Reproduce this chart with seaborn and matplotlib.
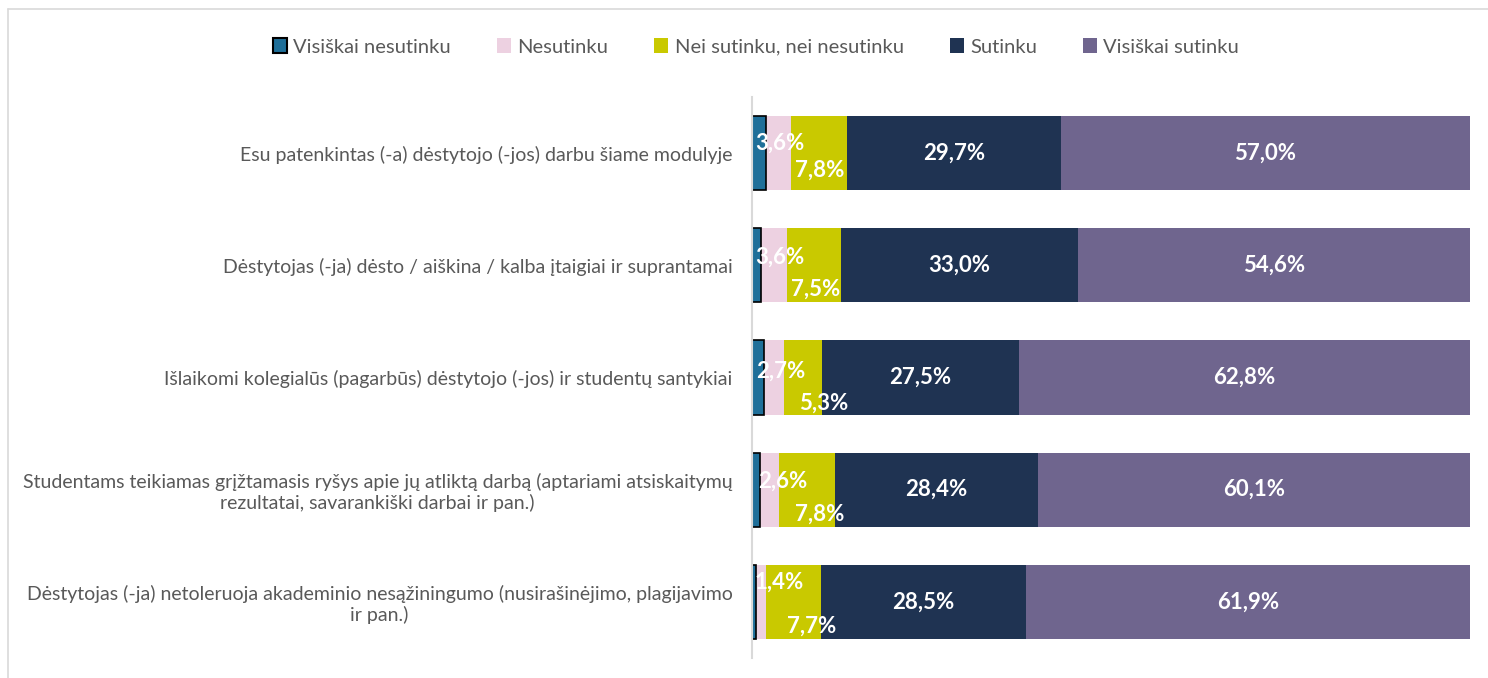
import seaborn as sns
import matplotlib
matplotlib.use('Agg')
import matplotlib.pyplot as plt
from matplotlib.patches import Patch
from matplotlib.lines import Line2D
import numpy as np
import pandas as pd

sns.set_style('white')
plt.rcParams['font.family'] = ['Lato', 'DejaVu Sans']

# duomenys
klausimai = [
    'Esu patenkintas (-a) dėstytojo (-jos) darbu šiame modulyje',
    'Dėstytojas (-ja) dėsto / aiškina / kalba įtaigiai ir suprantamai',
    'Išlaikomi kolegialūs (pagarbūs) dėstytojo (-jos) ir studentų santykiai',
    'Studentams teikiamas grįžtamasis ryšys apie jų atliktą darbą (aptariami atsiskaitymų\nrezultatai, savarankiški darbai ir pan.)',
    'Dėstytojas (-ja) netoleruoja akademinio nesąžiningumo (nusirašinėjimo, plagijavimo\nir pan.)',
]
atsakymai = ['Visiškai nesutinku', 'Nesutinku', 'Nei sutinku, nei nesutinku', 'Sutinku', 'Visiškai sutinku']
visiskai_nesutinku = [1.9, 1.3, 1.7, 1.1, 0.5]
nesutinku = [3.6, 3.6, 2.7, 2.6, 1.4]
nei = [7.8, 7.5, 5.3, 7.8, 7.7]
sutinku = [29.7, 33.0, 27.5, 28.4, 28.5]
visiskai_sutinku = [57.0, 54.6, 62.8, 60.1, 61.9]

spalvos = ['#1F6F99', '#EDD1E1', '#C9C900', '#1F3352', '#6F658E']
# etikečių poslinkiai: (x procentais, y kategorijos vienetais)
posl_nesutinku = [(0.2, -0.09), (0.8, -0.07), (0.95, -0.06), (1.9, -0.08), (2.55, -0.18)]
posl_nei = [(0.0, 0.15), (0.2, 0.21), (2.95, 0.23), (1.8, 0.22), (2.55, 0.22)]

serijos = [visiskai_nesutinku, nesutinku, nei, sutinku, visiskai_sutinku]
df = pd.DataFrame({a: s for a, s in zip(atsakymai, serijos)})
df['klausimas'] = klausimai
cum = df[atsakymai].cumsum(axis=1)

fig = plt.figure(figsize=(14.88, 6.78), dpi=100)
ax = fig.add_axes([752 / 1488, 1 - 658 / 678, (1470 - 752) / 1488, (658 - 97) / 678])

# sukrautos juostos: piešiam nuo didžiausios sumos iki mažiausios
for i in range(len(atsakymai) - 1, -1, -1):
    sns.barplot(x=cum[atsakymai[i]], y=df['klausimas'], orient='h', color=spalvos[i],
                width=0.66, ax=ax, saturation=1,
                edgecolor='black' if i == 0 else 'none',
                linewidth=1.2 if i == 0 else 0)

# etiketės
for r in range(len(klausimai)):
    for i in range(1, len(atsakymai)):
        v = serijos[i][r]
        x = cum[atsakymai[i]][r] - v / 2
        y = r
        if i == 1:
            x += posl_nesutinku[r][0]
            y += posl_nesutinku[r][1]
        elif i == 2:
            x += posl_nei[r][0]
            y += posl_nei[r][1]
        ax.text(x, y, f'{v:.1f}%'.replace('.', ','), ha='center', va='center',
                color='white', fontweight='bold', fontsize=16)

ax.set_xlim(0, 100)
ax.set_ylim(4.5, -0.5)
ax.set_xlabel('')
ax.set_ylabel('')
ax.set_xticks([])
ax.tick_params(axis='y', length=0, pad=14)
for lab in ax.get_yticklabels():
    lab.set_multialignment('center')
    lab.set_color('#595959')
    lab.set_fontsize(14)
for s in ['top', 'right', 'bottom']:
    ax.spines[s].set_visible(False)
ax.spines['left'].set_color('#D9D9D9')
ax.spines['left'].set_linewidth(1.5)

handles = [Patch(facecolor=spalvos[i], edgecolor='black' if i == 0 else spalvos[i],
                 linewidth=1.5 if i == 0 else 0) for i in range(len(atsakymai))]
fig.legend(handles, atsakymai, loc='center', bbox_to_anchor=(0.5 + 12 / 1488, 1 - 47 / 678), ncol=5,
           frameon=False, fontsize=14.5, handlelength=0.7, handleheight=0.7,
           handletextpad=0.3, columnspacing=2.3, labelcolor='#595959')

# rėmelis
fig.add_artist(Line2D([8 / 1488, 1], [1 - 9 / 678, 1 - 9 / 678], color='#D9D9D9', lw=1.2))
fig.add_artist(Line2D([8 / 1488, 8 / 1488], [0, 1 - 9 / 678], color='#D9D9D9', lw=1.2))

plt.savefig('out.png', dpi=100)
